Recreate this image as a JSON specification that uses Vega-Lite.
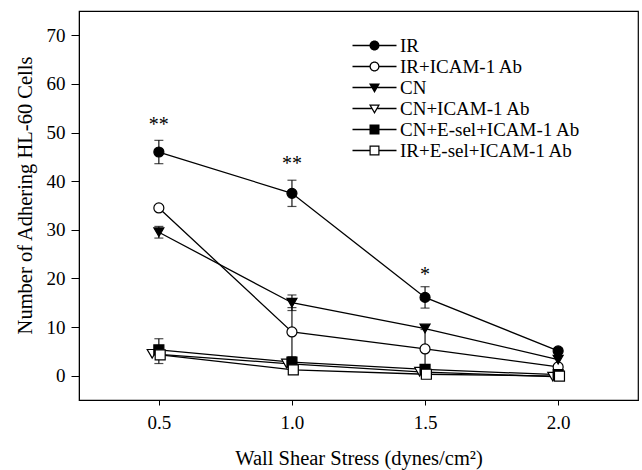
{
  "$schema": "https://vega.github.io/schema/vega-lite/v6.json",
  "width": 559,
  "height": 389,
  "autosize": {"type": "none"},
  "padding": {"left": 79, "top": 11, "right": 4, "bottom": 70},
  "background": "white",
  "config": {
    "font": "Liberation Serif",
    "view": {"stroke": "black", "strokeWidth": 1.2},
    "axis": {
      "grid": false,
      "domainColor": "black",
      "tickColor": "black",
      "labelColor": "black",
      "titleColor": "black",
      "labelFont": "Liberation Serif",
      "titleFont": "Liberation Serif",
      "labelFontSize": 19,
      "titleFontSize": 20.5,
      "titleFontWeight": "normal"
    },
    "legend": {
      "orient": "none",
      "legendX": 286,
      "legendY": 25,
      "symbolSize": 100,
      "symbolOpacity": 1,
      "symbolStrokeColor": "transparent",
      "symbolStrokeWidth": 0,
      "symbolFillColor": "black",
      "labelFont": "Liberation Serif",
      "labelFontSize": 19,
      "labelColor": "black",
      "labelOffset": 16,
      "labelLimit": 400,
      "rowPadding": 1,
      "padding": 0
    }
  },
  "datasets": {
    "series": [
      {"g": "IR", "x": 0.5, "y": 46.0, "lo": 43.6, "hi": 48.4},
      {"g": "IR", "x": 1.0, "y": 37.5, "lo": 34.8, "hi": 40.2},
      {"g": "IR", "x": 1.5, "y": 16.1, "lo": 13.9, "hi": 18.3},
      {"g": "IR", "x": 2.0, "y": 5.1, "lo": null, "hi": null},
      {"g": "IR+ICAM-1 Ab", "x": 0.5, "y": 34.5, "lo": null, "hi": null},
      {"g": "IR+ICAM-1 Ab", "x": 1.0, "y": 9.0, "lo": 3.7, "hi": 14.0},
      {"g": "IR+ICAM-1 Ab", "x": 1.5, "y": 5.5, "lo": 1.5, "hi": 9.5},
      {"g": "IR+ICAM-1 Ab", "x": 2.0, "y": 1.8, "lo": null, "hi": null},
      {"g": "CN", "x": 0.5, "y": 29.5, "lo": 28.3, "hi": 30.7},
      {"g": "CN", "x": 1.0, "y": 15.0, "lo": 13.4, "hi": 16.6},
      {"g": "CN", "x": 1.5, "y": 9.7, "lo": null, "hi": null},
      {"g": "CN", "x": 2.0, "y": 3.3, "lo": null, "hi": null},
      {"g": "CN+ICAM-1 Ab", "x": 0.475, "y": 4.5, "lo": null, "hi": null},
      {"g": "CN+ICAM-1 Ab", "x": 0.98, "y": 2.5, "lo": null, "hi": null},
      {"g": "CN+ICAM-1 Ab", "x": 1.48, "y": 0.8, "lo": null, "hi": null},
      {"g": "CN+ICAM-1 Ab", "x": 1.98, "y": -0.2, "lo": null, "hi": null},
      {"g": "CN+E-sel+ICAM-1 Ab", "x": 0.5, "y": 5.3, "lo": 2.5, "hi": 7.6},
      {"g": "CN+E-sel+ICAM-1 Ab", "x": 1.0, "y": 2.8, "lo": 1.7, "hi": 3.9},
      {"g": "CN+E-sel+ICAM-1 Ab", "x": 1.5, "y": 1.3, "lo": null, "hi": null},
      {"g": "CN+E-sel+ICAM-1 Ab", "x": 2.0, "y": 0.2, "lo": null, "hi": null},
      {"g": "IR+E-sel+ICAM-1 Ab", "x": 0.505, "y": 4.3, "lo": null, "hi": null},
      {"g": "IR+E-sel+ICAM-1 Ab", "x": 1.005, "y": 1.2, "lo": null, "hi": null},
      {"g": "IR+E-sel+ICAM-1 Ab", "x": 1.505, "y": 0.3, "lo": null, "hi": null},
      {"g": "IR+E-sel+ICAM-1 Ab", "x": 2.005, "y": -0.1, "lo": null, "hi": null}
    ],
    "stars": [
      {"x": 0.5, "y": 50.4, "t": "**"},
      {"x": 1.0, "y": 42.2, "t": "**"},
      {"x": 1.5, "y": 19.5, "t": "*"}
    ]
  },
  "layer": [
    {
      "data": {"name": "series"},
      "mark": {"type": "line", "color": "black", "strokeWidth": 1.3},
      "encoding": {
        "x": {
          "field": "x", "type": "quantitative",
          "scale": {"domain": [0.2, 2.3], "nice": false, "zero": false},
          "axis": {"values": [0.5, 1.0, 1.5, 2.0], "format": ".1f", "title": "Wall Shear Stress (dynes/cm²)", "tickSize": 5, "labelPadding": 8, "titlePadding": 16}
        },
        "y": {
          "field": "y", "type": "quantitative",
          "scale": {"domain": [-5, 75], "nice": false, "zero": false},
          "axis": {"values": [0, 10, 20, 30, 40, 50, 60, 70], "title": "Number of Adhering HL-60 Cells", "tickSize": 8, "labelPadding": 6, "titlePadding": 11, "titleY": 184}
        },
        "detail": {"field": "g", "type": "nominal"}
      }
    },
    {
      "data": {"name": "series"},
      "transform": [{"filter": "datum.lo != null"}],
      "mark": {"type": "rule", "color": "black", "strokeWidth": 1.1},
      "encoding": {
        "x": {"field": "x", "type": "quantitative"},
        "y": {"field": "lo", "type": "quantitative"},
        "y2": {"field": "hi"}
      }
    },
    {
      "data": {"name": "series"},
      "transform": [{"filter": "datum.lo != null"}],
      "mark": {"type": "tick", "orient": "horizontal", "color": "black", "size": 9, "thickness": 1.2},
      "encoding": {
        "x": {"field": "x", "type": "quantitative"},
        "y": {"field": "lo", "type": "quantitative"}
      }
    },
    {
      "data": {"name": "series"},
      "transform": [{"filter": "datum.lo != null"}],
      "mark": {"type": "tick", "orient": "horizontal", "color": "black", "size": 9, "thickness": 1.2},
      "encoding": {
        "x": {"field": "x", "type": "quantitative"},
        "y": {"field": "hi", "type": "quantitative"}
      }
    },
    {
      "data": {"name": "series"},
      "transform": [{"filter": "datum.g === 'IR'"}],
      "mark": {"type": "point", "shape": "circle", "filled": true, "fill": "black", "stroke": "black", "strokeWidth": 1.2, "opacity": 1, "size": 100},
      "encoding": {"x": {"field": "x", "type": "quantitative"}, "y": {"field": "y", "type": "quantitative"}}
    },
    {
      "data": {"name": "series"},
      "transform": [{"filter": "datum.g === 'IR+ICAM-1 Ab'"}],
      "mark": {"type": "point", "shape": "circle", "filled": true, "fill": "white", "stroke": "black", "strokeWidth": 1.2, "opacity": 1, "size": 100},
      "encoding": {"x": {"field": "x", "type": "quantitative"}, "y": {"field": "y", "type": "quantitative"}}
    },
    {
      "data": {"name": "series"},
      "transform": [{"filter": "datum.g === 'CN'"}],
      "mark": {"type": "point", "shape": "triangle-down", "filled": true, "fill": "black", "stroke": "black", "strokeWidth": 1.2, "opacity": 1, "size": 100},
      "encoding": {"x": {"field": "x", "type": "quantitative"}, "y": {"field": "y", "type": "quantitative"}}
    },
    {
      "data": {"name": "series"},
      "transform": [{"filter": "datum.g === 'CN+ICAM-1 Ab'"}],
      "mark": {"type": "point", "shape": "triangle-down", "filled": true, "fill": "white", "stroke": "black", "strokeWidth": 1.2, "opacity": 1, "size": 100},
      "encoding": {"x": {"field": "x", "type": "quantitative"}, "y": {"field": "y", "type": "quantitative"}}
    },
    {
      "data": {"name": "series"},
      "transform": [{"filter": "datum.g === 'CN+E-sel+ICAM-1 Ab'"}],
      "mark": {"type": "point", "shape": "square", "filled": true, "fill": "black", "stroke": "black", "strokeWidth": 1.2, "opacity": 1, "size": 100},
      "encoding": {"x": {"field": "x", "type": "quantitative"}, "y": {"field": "y", "type": "quantitative"}}
    },
    {
      "data": {"name": "series"},
      "transform": [{"filter": "datum.g === 'IR+E-sel+ICAM-1 Ab'"}],
      "mark": {"type": "point", "shape": "square", "filled": true, "fill": "white", "stroke": "black", "strokeWidth": 1.2, "opacity": 1, "size": 100},
      "encoding": {"x": {"field": "x", "type": "quantitative"}, "y": {"field": "y", "type": "quantitative"}}
    },
    {
      "data": {"name": "series"},
      "transform": [{"filter": "datum.x < 0"}],
      "mark": {"type": "point", "filled": true, "fill": "black", "opacity": 1, "size": 100},
      "encoding": {
        "x": {"field": "x", "type": "quantitative"},
        "y": {"field": "y", "type": "quantitative"},
        "shape": {
          "field": "g", "type": "nominal",
          "scale": {
            "domain": ["IR", "IR+ICAM-1 Ab", "CN", "CN+ICAM-1 Ab", "CN+E-sel+ICAM-1 Ab", "IR+E-sel+ICAM-1 Ab"],
            "range": [
              "M-4.4,-0.13H-0.99V0.13H-4.4Z M0.99,-0.13H4.4V0.13H0.99Z M-1,0A1,1 0 1,1 1,0A1,1 0 1,1 -1,0Z",
              "M-4.4,-0.13H-0.99V0.13H-4.4Z M0.99,-0.13H4.4V0.13H0.99Z M-1,0A1,1 0 1,1 1,0A1,1 0 1,1 -1,0Z M-0.75,0A0.75,0.75 0 1,0 0.75,0A0.75,0.75 0 1,0 -0.75,0Z",
              "M-4.4,-0.13H-0.6V0.13H-4.4Z M0.6,-0.13H4.4V0.13H0.6Z M-1.1,-0.8L1.1,-0.8L0,1.1Z",
              "M-4.4,-0.13H-0.6V0.13H-4.4Z M0.6,-0.13H4.4V0.13H0.6Z M-1.1,-0.8L1.1,-0.8L0,1.1Z M-0.667,-0.55L0,0.601L0.667,-0.55Z",
              "M-4.4,-0.13H-0.99V0.13H-4.4Z M0.99,-0.13H4.4V0.13H0.99Z M-1,-1H1V1H-1Z",
              "M-4.4,-0.13H-0.99V0.13H-4.4Z M0.99,-0.13H4.4V0.13H0.99Z M-1,-1H1V1H-1Z M-0.76,-0.76V0.76H0.76V-0.76Z"
            ]
          },
          "legend": {"title": null}
        }
      }
    },
    {
      "data": {"name": "stars"},
      "mark": {"type": "text", "font": "Liberation Serif", "fontSize": 20, "baseline": "alphabetic", "align": "center", "color": "black"},
      "encoding": {
        "x": {"field": "x", "type": "quantitative"},
        "y": {"field": "y", "type": "quantitative"},
        "text": {"field": "t"}
      }
    }
  ]
}
